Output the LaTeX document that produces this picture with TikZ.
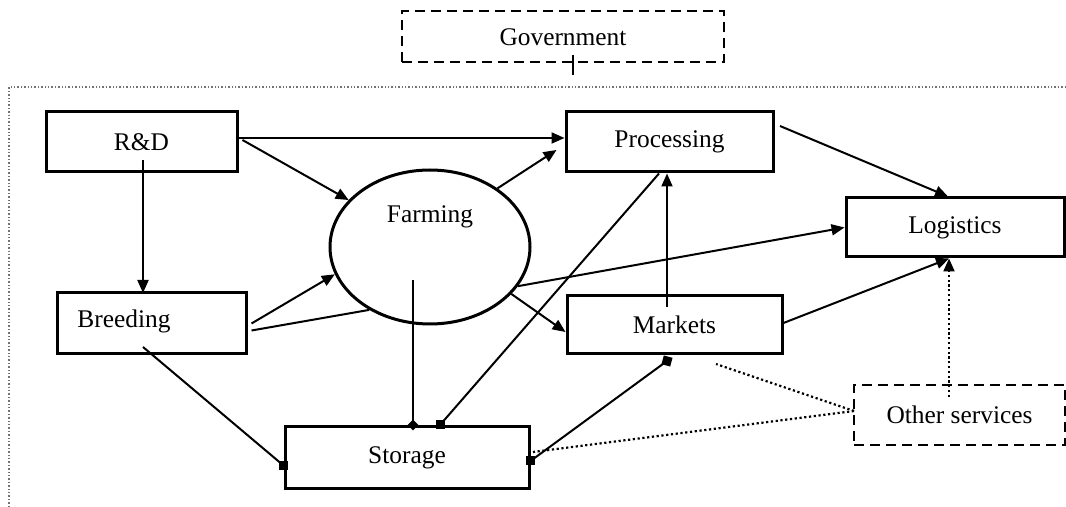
\documentclass[tikz,border=0pt]{standalone}
\usepackage{fontspec}
\setmainfont{Liberation Serif}
\usetikzlibrary{arrows.meta,shapes.geometric}
\begin{document}
\begin{tikzpicture}[x=0.5pt,y=-0.5pt,
  font=\fontsize{12.7}{15}\selectfont,
  box/.style={draw,line width=1.5pt,inner sep=0pt},
  dbox/.style={draw,line width=1pt,dash pattern=on 5pt off 3pt,inner sep=0pt},
  txt/.style={inner sep=0pt},
  conn/.style={line width=1pt},
  arr/.style={conn,-{Triangle[length=6.5pt,width=5.5pt]}},
  sqmark/.style={fill,draw=none,minimum size=4.5pt,inner sep=0pt},
  diamark/.style={diamond,fill,draw=none,minimum size=5.5pt,inner sep=0pt},
  dots/.style={line width=1.1pt,dash pattern=on 1.1pt off 1.3pt},
  frame/.style={black!55,line width=0.7pt,densely dotted}]
\useasboundingbox (0,0) rectangle (1066,507);

% outer frame
\coordinate (ftl) at (9,87);
\coordinate (ftr) at (1066,87);
\coordinate (fbl) at (9,507);
\draw[frame] (ftr) -- (ftl) -- (fbl);

% nodes
\node[dbox,minimum width=161pt,minimum height=25.5pt] (gov) at (563,37) {};
\node[txt] (govt) at (563,37) {Government};
\node[box,minimum width=95.5pt,minimum height=30pt] (rd) at (141.5,142) {R\&D};
\node[box,minimum width=103.5pt,minimum height=30pt] (proc) at (669.5,142) {Processing};
\node[box,minimum width=109pt,minimum height=29.5pt] (log) at (955,227.5) {Logistics};
\node[box,minimum width=107.5pt,minimum height=29pt] (mk) at (674.5,325) {Markets};
\node[box,minimum width=94.5pt,minimum height=30.5pt] (br) at (151.5,323.5) {};
\node[txt] (brt) at (124,321) {Breeding};
\node[box,minimum width=122pt,minimum height=31pt] (st) at (407,457.5) {Storage};
\node[dbox,minimum width=105.5pt,minimum height=30pt] (os) at (959.5,415) {Other services};
\node[ellipse,draw,line width=1.5pt,minimum width=100pt,minimum height=77pt,inner sep=0pt] (farm) at (430,247) {};
\node[txt] (farmt) at (430,217) {Farming};

% free ends
\coordinate (govA) at (573,55);
\coordinate (govB) at (573,75);
\coordinate (rdin) at (143,160);
\coordinate (procout) at (780,126);
\coordinate (farmin) at (413,280);
\coordinate (brin) at (143,347);
\coordinate (mkin) at (667,307);
\coordinate (osin) at (949,397);
\coordinate (mkbelow) at (667,361);
\coordinate (mkdot) at (716,364);
\coordinate (osl) at (854,411);
\coordinate (stdot) at (533,452);
\coordinate (sttop1) at ([xshift=3pt]st.north);
\coordinate (sttop2) at ([xshift=16.5pt]st.north);
\coordinate (stleft) at ([yshift=-4pt]st.west);
\coordinate (stright) at ([yshift=-1.75pt]st.east);

% connectors
\draw[conn] (govA) -- (govB);
\draw[arr] (rdin) -- (143,293);
\draw[arr] ([yshift=2pt]rd.east) -- ([yshift=2pt]proc.west);
\draw[arr] ([yshift=1pt,xshift=2pt]rd.east) -- (farm.150);
\draw[arr] (farm.41) -- ([yshift=-4pt,xshift=-4pt]proc.west);
\draw[arr] (procout) -- ([xshift=-3.5pt]log.north);
\draw[arr] ([xshift=2pt]br.east) -- (farm.196);
\draw[conn] ([xshift=2pt,yshift=-3.5pt]br.east) -- (farm.226);
\draw[arr] (farm.-24) -- (log.west);
\draw[arr] (farm.-30) -- ([yshift=-3.5pt]mk.west);
\draw[conn] (farmin) -- (sttop1);
\draw[conn] ([xshift=-5.25pt]proc.south) -- (sttop2);
\draw[conn] (brin) -- (stleft);
\draw[arr] (mkin) -- (mkin |- proc.south);
\draw[arr] ([yshift=1pt]mk.east) -- ([xshift=-3pt]log.south);
\draw[dots,-{Triangle[length=6.5pt,width=5.5pt]}] (osin) -- (osin |- log.south);
\draw[conn] (stright) -- (mkbelow);
\draw[dots] (osl) -- (mkdot);
\draw[dots] (osl) -- (stdot);

% end marks
\node[diamark] (d1) at (sttop1) {};
\node[sqmark] (s1) at (sttop2) {};
\node[sqmark] (s2) at (stleft) {};
\node[sqmark] (s3) at (stright) {};
\node[sqmark,rotate=-15] (s4) at (mkbelow) {};
\end{tikzpicture}
\end{document}
